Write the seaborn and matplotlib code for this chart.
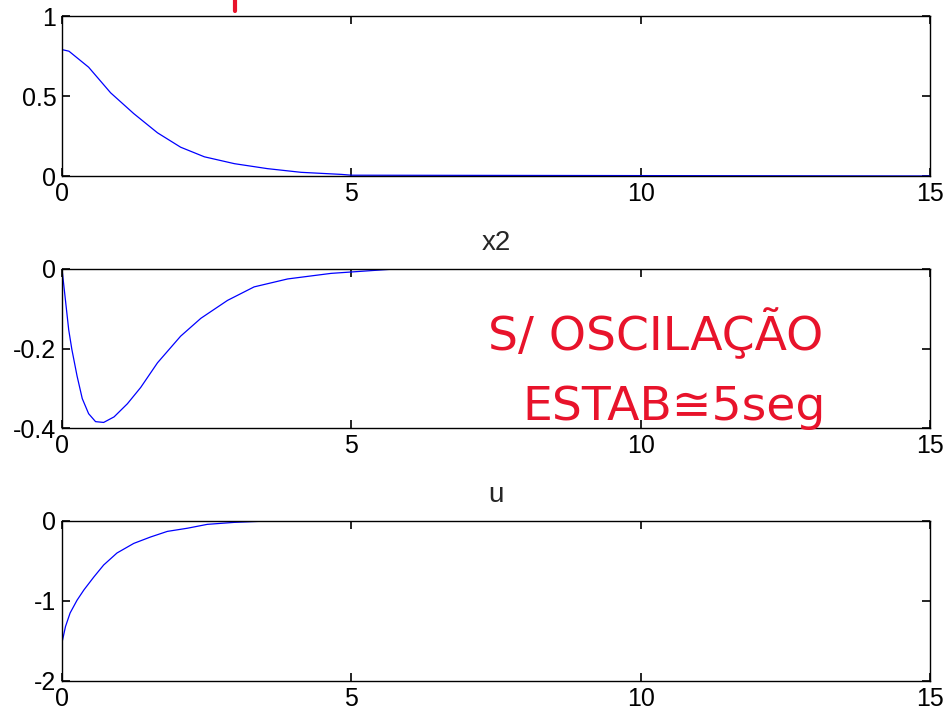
import numpy as np
import pandas as pd
import seaborn as sns
import matplotlib.pyplot as plt
from matplotlib.lines import Line2D

# x1
t_x1 = [0, 0.12, 0.46, 0.84, 1.24, 1.65, 2.05, 2.46, 2.98, 3.55, 4.13, 4.83, 5.0, 15]
x1 = [0.79, 0.78, 0.68, 0.52, 0.39, 0.27, 0.18, 0.12, 0.077, 0.046, 0.023, 0.01, 0.005, 0.0]

# x2
t_x2 = [0, 0.06, 0.116, 0.17, 0.26, 0.35, 0.46, 0.58, 0.72, 0.90, 1.13, 1.36, 1.65,
        2.05, 2.40, 2.86, 3.32, 3.90, 4.65, 5.75, 15]
x2 = [0, -0.079, -0.153, -0.202, -0.269, -0.326, -0.364, -0.384, -0.386, -0.372,
      -0.339, -0.298, -0.236, -0.169, -0.124, -0.079, -0.045, -0.025, -0.011, 0.0, 0.0]

# u
t_u = [0, 0.06, 0.14, 0.26, 0.38, 0.55, 0.72, 0.95, 1.24, 1.53, 1.82, 2.17, 2.51,
       2.98, 3.55, 15]
u = [-1.52, -1.32, -1.15, -0.99, -0.86, -0.70, -0.55, -0.40, -0.28, -0.20, -0.13,
     -0.09, -0.042, -0.017, 0.0, 0.0]

paineis = [
    ('', t_x1, x1, (0, 1), [0, 0.5, 1], ['0', '0.5', '1']),
    ('x2', t_x2, x2, (-0.4, 0), [-0.4, -0.2, 0], ['-0.4', '-0.2', '0']),
    ('u', t_u, u, (-2, 0), [-2, -1, 0], ['-2', '-1', '0']),
]

sns.set_theme(style='ticks')
plt.rcParams['font.family'] = ['Liberation Sans', 'DejaVu Sans']

fig = plt.figure(figsize=(9.49, 7.18), dpi=100)
W, H = 949, 718
caixas = [(16, 176), (269, 428), (521, 681)]

for (nome, t, y, ylim, yt, ytl), (topo, base) in zip(paineis, caixas):
    ax = fig.add_axes([62 / W, 1 - base / H, (930 - 62) / W, (base - topo) / H])
    df = pd.DataFrame({'t': t, 'y': y})
    sns.lineplot(data=df, x='t', y='y', ax=ax, color='#0000ff', linewidth=0.9)
    ax.set_xlim(0, 15)
    ax.set_ylim(*ylim)
    ax.set_xticks([0, 5, 10, 15])
    ax.set_xticklabels(['0', '5', '10', '15'])
    ax.set_yticks(yt)
    ax.set_yticklabels(ytl)
    ax.set_xlabel('')
    ax.set_ylabel('')
    ax.tick_params(direction='in', length=6, width=1.2, colors='black', labelsize=18,
                   bottom=True, left=True, top=True, right=True, pad=4)
    for s in ax.spines.values():
        s.set_visible(True)
        s.set_color('black')
        s.set_linewidth(1)
    if nome:
        ax.set_title(nome, fontsize=20, pad=14)

# anotações à mão (vermelho)
fig.text(488 / W, 1 - 350 / H, 'S/ OSCILAÇÃO', color='#e8132b', fontsize=34,
         family=['DejaVu Sans'], ha='left', va='baseline')
fig.text(522 / W, 1 - 420 / H, 'ESTAB≅5seg', color='#e8132b', fontsize=34,
         family=['DejaVu Sans'], ha='left', va='baseline')
fig.add_artist(Line2D([235 / W, 235 / W], [1 - 0 / H, 1 - 11 / H], color='#e8132b',
                      linewidth=3, transform=fig.transFigure))

fig.savefig('out.png', dpi=100)
